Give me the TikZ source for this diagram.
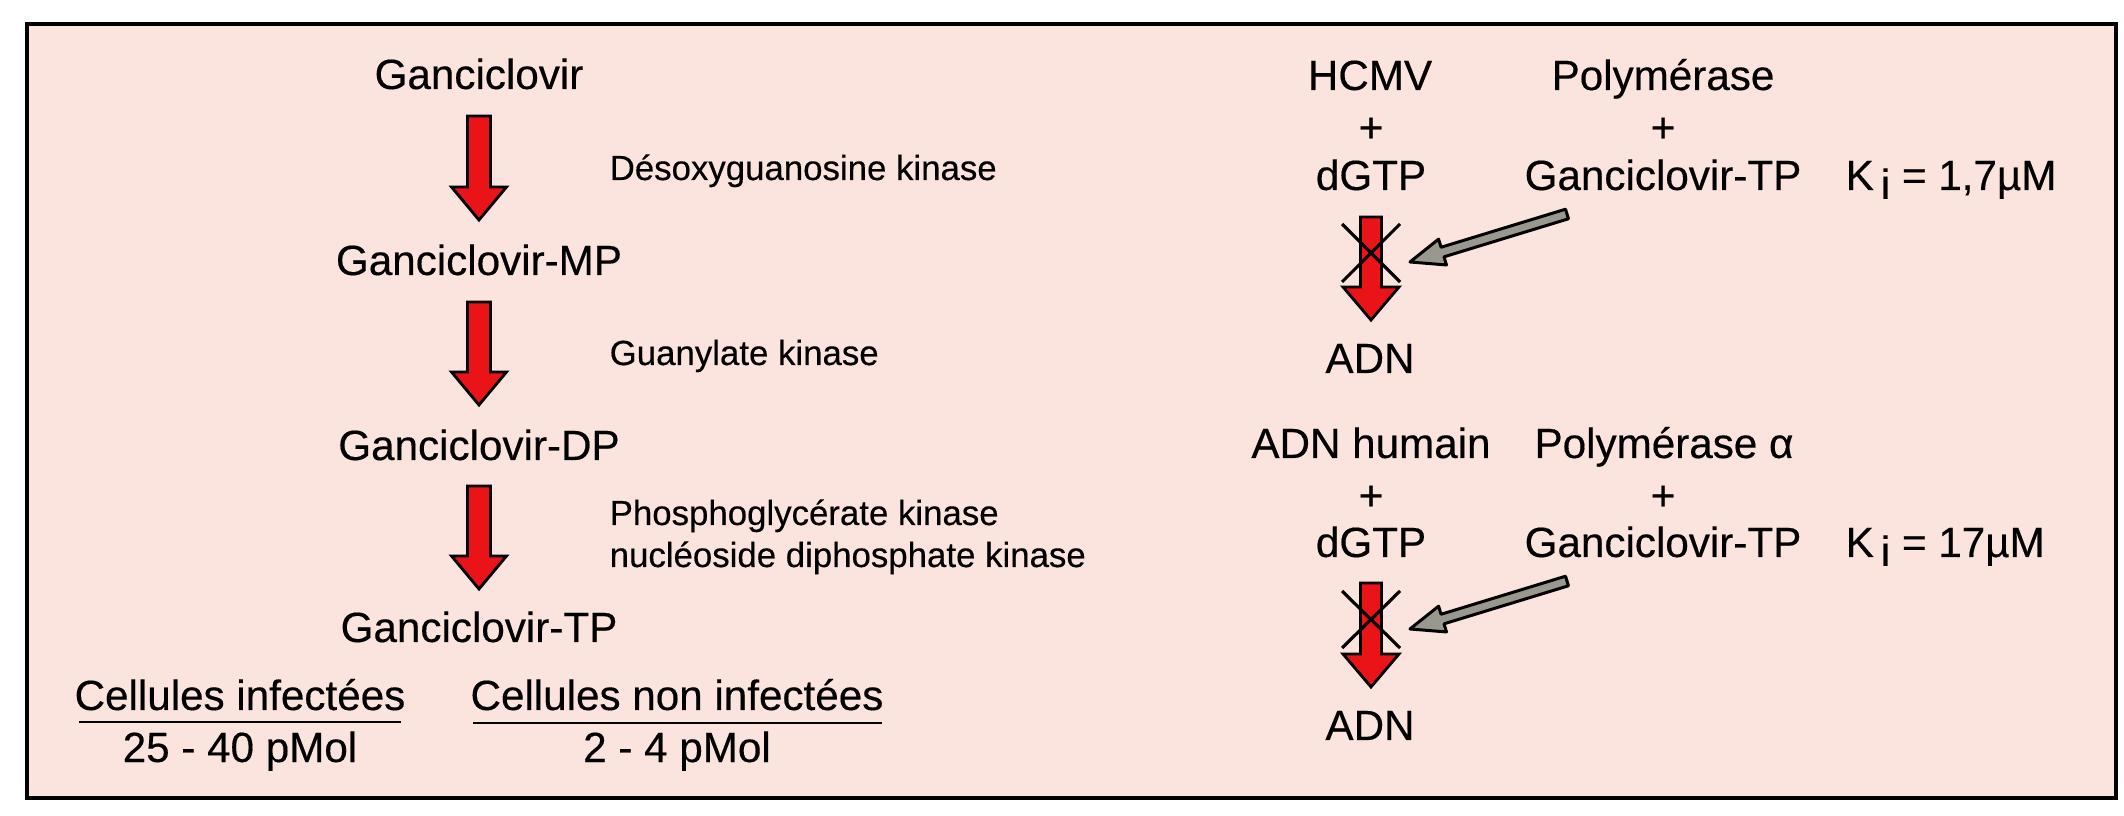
\documentclass[tikz,border=0pt]{standalone}
\usepackage{fontspec}
\setmainfont{Liberation Sans}[UprightFeatures={FakeBold=0.35}]
\usetikzlibrary{calc}
\definecolor{bgpink}{RGB}{251,227,222}
\definecolor{arrowred}{RGB}{234,20,24}
\definecolor{arrowgray}{RGB}{152,152,142}
% #1 style, #2 from, #3 to, #4 head length, #5 head half width, #6 shaft half width
\newcommand\blkarrow[6]{%
  \path ($(#3)!#4!(#2)$) coordinate (BAh);
  \filldraw[#1] (#3) -- ($(BAh)!#5!90:(#3)$) -- ($(BAh)!#6!90:(#3)$)
    -- ($(#2)!#6!90:(#3)$) -- ($(#2)!#6!-90:(#3)$) -- ($(BAh)!#6!-90:(#3)$)
    -- ($(BAh)!#5!-90:(#3)$) -- cycle;
}
\begin{document}
\begin{tikzpicture}[x=0.01cm,y=-0.01cm,
  lab/.style={inner sep=0pt, anchor=base, font=\fontsize{12pt}{14pt}\selectfont},
  side/.style={inner sep=0pt, anchor=base west, font=\fontsize{9.9pt}{12pt}\selectfont},
  redarr/.style={fill=arrowred, draw=black, line width=0.8pt, line join=miter},
  grayarr/.style={fill=arrowgray, draw=black, line width=0.85pt, line join=round},
  crossline/.style={draw=black, line width=0.9pt},
  uline/.style={draw=black, line width=0.8pt}]

\useasboundingbox (0,0) rectangle (2124,816);
\draw[fill=bgpink, line width=1.1pt] (27,24) rectangle (2116,798);

% ---------- left column ----------
\node[lab] (g0) at (479,89) {Ganciclovir};
\node[lab] (g1) at (479,275) {Ganciclovir-MP};
\node[lab] (g2) at (479,460) {Ganciclovir-DP};
\node[lab] (g3) at (479,642) {Ganciclovir-TP};

\node[side] (e1) at (609,180) {Désoxyguanosine kinase};
\node[side] (e2) at (609,365) {Guanylate kinase};
\node[side] (e3a) at (609,525) {Phosphoglycérate kinase};
\node[side] (e3b) at (609,567) {nucléoside diphosphate kinase};

\coordinate (a1s) at (479,116);
\coordinate (a1e) at (479,220);
\coordinate (a2s) at (479,302);
\coordinate (a2e) at (479,405);
\coordinate (a3s) at (479,486);
\coordinate (a3e) at (479,589);
\blkarrow{redarr}{a1s}{a1e}{0.33cm}{0.275cm}{0.115cm}
\blkarrow{redarr}{a2s}{a2e}{0.33cm}{0.275cm}{0.115cm}
\blkarrow{redarr}{a3s}{a3e}{0.33cm}{0.275cm}{0.115cm}

\node[lab] (ci) at (240,710) {Cellules infectées};
\node[lab] (cv) at (240,762) {25 - 40 pMol};
\node[lab] (cn) at (677,710) {Cellules non infectées};
\node[lab] (cw) at (677,762) {2 - 4 pMol};
\coordinate (u1a) at (79,722);
\coordinate (u1b) at (401,722);
\coordinate (u2a) at (473,723);
\coordinate (u2b) at (882,723);
\draw[uline] (u1a) -- (u1b);
\draw[uline] (u2a) -- (u2b);

% ---------- right column, group 1 ----------
\node[lab] (h1) at (1370,90) {HCMV};
\node[lab] (p1) at (1371,142) {+};
\node[lab] (d1) at (1371,190) {dGTP};
\node[lab] (y1) at (1663,90) {Polymérase};
\node[lab] (q1) at (1663,142) {+};
\node[lab] (t1) at (1663,190) {Ganciclovir-TP};
\node[lab, anchor=base west] (k1) at (1845,190) {K\,\raisebox{-0.4ex}{i} = 1,7µM};
\node[lab] (n1) at (1370,373) {ADN};

\coordinate (r1s) at (1371,217);
\coordinate (r1e) at (1371,320);
\blkarrow{redarr}{r1s}{r1e}{0.33cm}{0.28cm}{0.105cm}
\coordinate (x1a) at (1342,224);
\coordinate (x1b) at (1400,282);
\coordinate (x1c) at (1400,224);
\coordinate (x1d) at (1342,282);
\draw[crossline] (x1a) -- (x1b);
\draw[crossline] (x1c) -- (x1d);
\coordinate (g1s) at (1567,214);
\coordinate (g1e) at (1410,262);
\blkarrow{grayarr}{g1s}{g1e}{0.34cm}{0.135cm}{0.05cm}

% ---------- right column, group 2 ----------
\node[lab] (h2) at (1371,458) {ADN humain};
\node[lab] (p2) at (1371,510) {+};
\node[lab] (d2) at (1371,557) {dGTP};
\node[lab] (y2) at (1664,458) {Polymérase α};
\node[lab] (q2) at (1663,510) {+};
\node[lab] (t2) at (1663,557) {Ganciclovir-TP};
\node[lab, anchor=base west] (k2) at (1845,557) {K\,\raisebox{-0.4ex}{i} = 17µM};
\node[lab] (n2) at (1370,740) {ADN};

\coordinate (r2s) at (1371,583);
\coordinate (r2e) at (1371,687);
\blkarrow{redarr}{r2s}{r2e}{0.33cm}{0.28cm}{0.105cm}
\coordinate (x2a) at (1342,591);
\coordinate (x2b) at (1400,648);
\coordinate (x2c) at (1400,591);
\coordinate (x2d) at (1342,648);
\draw[crossline] (x2a) -- (x2b);
\draw[crossline] (x2c) -- (x2d);
\coordinate (g2s) at (1567,581);
\coordinate (g2e) at (1410,629);
\blkarrow{grayarr}{g2s}{g2e}{0.34cm}{0.135cm}{0.05cm}
\end{tikzpicture}
\end{document}
